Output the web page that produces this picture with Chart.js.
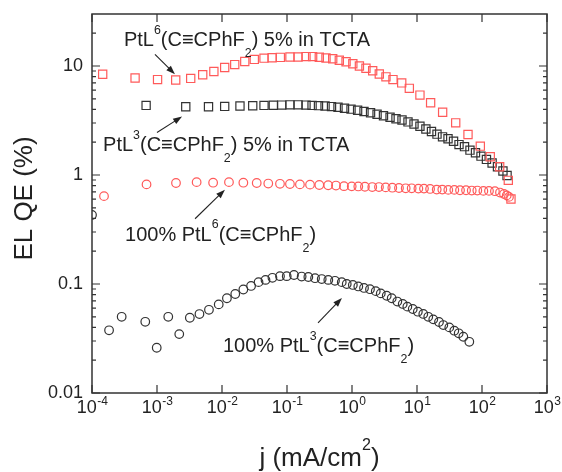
<!DOCTYPE html>
<html>
<head>
<meta charset="utf-8">
<script src="https://cdn.jsdelivr.net/npm/chart.js@4.4.1/dist/chart.umd.min.js"></script>
<style>
  html, body { margin: 0; padding: 0; background: #fff; }
  #wrap { width: 562px; height: 472px; }
</style>
</head>
<body>
<div id="wrap"><canvas id="qeChart" width="562" height="472"></canvas></div>
<script>
// EL QE (%) versus current density j (mA/cm2)

// PtL6(C≡CPhF2) 5% in TCTA (red squares)
const jL6Doped = [1.46e-4, 4.6e-4, 1.02e-3, 1.94e-3, 3.3e-3, 5.05e-3, 7.5e-3, 0.011, 0.0157, 0.0224,
  0.0314, 0.0443, 0.059, 0.079, 0.111, 0.148, 0.196, 0.248, 0.314, 0.398,
  0.505, 0.638, 0.81, 1.03, 1.30, 1.64, 2.08, 2.63, 3.33, 4.27,
  5.82, 7.62, 11.1, 16.2, 24.8, 39.4, 60.9, 94.2, 134, 187,
  254, 279];
const qeL6Doped = [8.4, 7.76, 7.5, 7.45, 7.7, 8.3, 8.9, 9.7, 10.3, 11.0,
  11.5, 11.8, 11.9, 12.0, 12.1, 12.1, 12.2, 12.2, 12.05, 11.85,
  11.65, 11.3, 10.95, 10.5, 10.0, 9.55, 9.05, 8.45, 7.95, 7.5,
  7.0, 6.24, 5.41, 4.60, 3.77, 3.01, 2.35, 1.84, 1.47, 1.19,
  0.893, 0.603];

// PtL3(C≡CPhF2) 5% in TCTA (black squares)
const jL3Doped = [6.8e-4, 2.77e-3, 6.2e-3, 0.011, 0.0189, 0.0297, 0.0443, 0.0616, 0.083, 0.111,
  0.148, 0.196, 0.243, 0.305, 0.385, 0.484, 0.609, 0.767, 0.966, 1.22,
  1.53, 1.93, 2.43, 3.05, 3.85, 4.75, 5.88, 7.27, 8.99, 11.1,
  13.7, 16.7, 20.3, 24.7, 30.0, 36.5, 44.3, 53.8, 65.3, 79.4,
  96.5, 117, 143, 173, 210, 243];
const qeL3Doped = [4.35, 4.23, 4.23, 4.26, 4.29, 4.32, 4.35, 4.37, 4.38, 4.4,
  4.4, 4.38, 4.35, 4.33, 4.3, 4.24, 4.18, 4.1, 4.02, 3.93,
  3.83, 3.72, 3.61, 3.50, 3.39, 3.28, 3.20, 3.07, 2.94, 2.80,
  2.64, 2.51, 2.37, 2.24, 2.15, 2.04, 1.90, 1.82, 1.69, 1.60,
  1.49, 1.39, 1.29, 1.19, 1.09, 0.99];

// 100% PtL6(C≡CPhF2) (red circles)
const jL6Neat = [1.53e-4, 6.9e-4, 1.96e-3, 4.07e-3, 7.3e-3, 0.0128, 0.0213, 0.0342, 0.0515, 0.078,
  0.111, 0.158, 0.226, 0.314, 0.43, 0.567, 0.753, 0.99, 1.25, 1.58,
  2.05, 2.60, 3.30, 4.17, 5.28, 6.70, 8.28, 10.5, 12.8, 15.9,
  20.1, 24.5, 30.3, 37.5, 45.9, 56.8, 69.5, 84.7, 105, 128,
  158, 189, 218, 240, 260];
const qeL6Neat = [0.64, 0.82, 0.845, 0.86, 0.85, 0.86, 0.85, 0.845, 0.835, 0.83,
  0.827, 0.82, 0.816, 0.81, 0.805, 0.80, 0.79, 0.787, 0.785, 0.78,
  0.775, 0.775, 0.77, 0.765, 0.76, 0.755, 0.755, 0.75, 0.75, 0.745,
  0.735, 0.735, 0.73, 0.73, 0.725, 0.725, 0.72, 0.72, 0.715, 0.715,
  0.71, 0.69, 0.67, 0.65, 0.63];

// 100% PtL3(C≡CPhF2) (black circles)
const jL3Neat = [1.0e-4, 1.83e-4, 2.86e-4, 6.6e-4, 9.9e-4, 1.49e-3, 2.2e-3, 3.2e-3, 4.5e-3, 6.3e-3,
  8.9e-3, 0.0119, 0.016, 0.0213, 0.028, 0.0365, 0.0467, 0.0597, 0.078, 0.099,
  0.128, 0.168, 0.213, 0.270, 0.342, 0.432, 0.547, 0.695, 0.83, 1.03,
  1.25, 1.53, 1.89, 2.32, 2.77, 3.42, 4.08, 4.98, 6.03, 7.1,
  8.6, 10.3, 12.5, 14.9, 17.8, 21.8, 25.4, 31.4, 37.5, 43.8,
  51.6, 63.8];
const qeL3Neat = [0.43, 0.0376, 0.050, 0.045, 0.026, 0.050, 0.0347, 0.049, 0.053, 0.058,
  0.065, 0.074, 0.081, 0.089, 0.096, 0.104, 0.109, 0.114, 0.118, 0.118,
  0.121, 0.117, 0.116, 0.113, 0.111, 0.109, 0.107, 0.104, 0.100, 0.098,
  0.095, 0.092, 0.0896, 0.086, 0.082, 0.078, 0.074, 0.069, 0.0656, 0.062,
  0.059, 0.0557, 0.0531, 0.050, 0.0474, 0.0448, 0.042, 0.040, 0.0373, 0.0353,
  0.0328, 0.0295];

// axes
const xRange = [1e-4, 1e3];
const yRange = [0.01, 30];
const xTickPowers = [-4, -3, -2, -1, 0, 1, 2, 3];
const yTickValues = [0.01, 0.1, 1, 10];
const yTickLabels = ['0.01', '0.1', '1', '10'];

// annotations: text parts, anchor (data coords) and arrow from -> to
const notes = [
  { parts: [['PtL'], ['6', 'sup'], ['(C\u2261CPhF'], ['2', 'sub'], [') 5% in TCTA']],
    at: [3.1e-4, 15.2], from: [9.3e-4, 12.8], to: [1.89e-3, 8.4] },
  { parts: [['PtL'], ['3', 'sup'], ['(C\u2261CPhF'], ['2', 'sub'], [') 5% in TCTA']],
    at: [1.48e-4, 1.65], from: [1.0e-3, 2.45], to: [2.43e-3, 3.44] },
  { parts: [['100% PtL'], ['6', 'sup'], ['(C\u2261CPhF'], ['2', 'sub'], [')']],
    at: [3.22e-4, 0.249], from: [3.85e-3, 0.397], to: [0.0111, 0.734] },
  { parts: [['100% PtL'], ['3', 'sup'], ['(C\u2261CPhF'], ['2', 'sub'], [')']],
    at: [0.01035, 0.0237], from: [0.30, 0.0439], to: [0.70, 0.0745] }
];

const FONT = '"Liberation Sans", Arial, sans-serif';
const RED = '#ff5a5a';
const DARK = '#333333';

function toPoints(xs, ys) {
  return xs.map((x, i) => ({ x: x, y: ys[i] }));
}

// draws text made of normal / superscript / subscript pieces, returns width
function richText(ctx, parts, x, y, size, measureOnly) {
  let cx = x;
  parts.forEach(p => {
    const kind = p[1] || '';
    const fs = kind ? size * 0.62 : size;
    let dy = 0;
    if (kind === 'sup') dy = -size * 0.62;
    if (kind === 'sub') dy = size * 0.55;
    ctx.font = fs + 'px ' + FONT;
    if (!measureOnly) ctx.fillText(p[0], cx, y + dy);
    cx += ctx.measureText(p[0]).width;
  });
  return cx - x;
}

function arrow(ctx, x1, y1, x2, y2) {
  const ang = Math.atan2(y2 - y1, x2 - x1);
  const hl = 9, hw = 3.2;
  ctx.beginPath();
  ctx.moveTo(x1, y1);
  ctx.lineTo(x2 - Math.cos(ang) * hl * 0.8, y2 - Math.sin(ang) * hl * 0.8);
  ctx.stroke();
  ctx.beginPath();
  ctx.moveTo(x2, y2);
  ctx.lineTo(x2 - Math.cos(ang) * hl - Math.sin(ang) * hw, y2 - Math.sin(ang) * hl + Math.cos(ang) * hw);
  ctx.lineTo(x2 - Math.cos(ang) * hl + Math.sin(ang) * hw, y2 - Math.sin(ang) * hl - Math.cos(ang) * hw);
  ctx.closePath();
  ctx.fill();
}

const frameAndLabels = {
  id: 'frameAndLabels',
  afterDatasetsDraw(chart) {
    const ctx = chart.ctx;
    const xs = chart.scales.x;
    const ys = chart.scales.y;
    const a = chart.chartArea;
    ctx.save();
    ctx.strokeStyle = DARK;
    ctx.fillStyle = '#222';

    // frame
    ctx.lineWidth = 1.5;
    ctx.strokeRect(a.left, a.top, a.right - a.left, a.bottom - a.top);

    // x ticks (decades, inside, top and bottom)
    ctx.lineWidth = 1.2;
    ctx.beginPath();
    xTickPowers.forEach(p => {
      const px = xs.getPixelForValue(Math.pow(10, p));
      ctx.moveTo(px, a.bottom); ctx.lineTo(px, a.bottom - 8);
      ctx.moveTo(px, a.top); ctx.lineTo(px, a.top + 8);
    });
    // y ticks (major + minor, inside, left and right)
    for (let e = -2; e <= 1; e++) {
      for (let m = 1; m <= 9; m++) {
        const v = m * Math.pow(10, e);
        if (v >= yRange[1] * 0.999) break;
        const py = ys.getPixelForValue(v);
        const len = m === 1 ? 8 : 4;
        ctx.moveTo(a.left, py); ctx.lineTo(a.left + len, py);
        ctx.moveTo(a.right, py); ctx.lineTo(a.right - len, py);
      }
    }
    ctx.stroke();

    // x tick labels 10^n
    ctx.textAlign = 'left';
    ctx.textBaseline = 'alphabetic';
    xTickPowers.forEach(p => {
      const px = xs.getPixelForValue(Math.pow(10, p));
      const exp = p < 0 ? '-' + Math.abs(p) : String(p);
      ctx.font = '18px ' + FONT;
      const wBase = ctx.measureText('10').width;
      ctx.font = '12px ' + FONT;
      const wExp = ctx.measureText(exp).width;
      const x0 = px - (wBase + wExp) / 2;
      ctx.font = '18px ' + FONT;
      ctx.fillText('10', x0, 413);
      ctx.font = '12px ' + FONT;
      ctx.fillText(exp, x0 + wBase + 0.5, 405);
    });

    // y tick labels
    ctx.font = '18px ' + FONT;
    ctx.textAlign = 'right';
    ctx.textBaseline = 'middle';
    yTickValues.forEach((v, i) => {
      ctx.fillText(yTickLabels[i], a.left - 9, ys.getPixelForValue(v));
    });

    // axis titles
    ctx.textAlign = 'left';
    ctx.textBaseline = 'alphabetic';
    const xTitle = [['j (mA/cm'], ['2', 'sup'], [')']];
    const wt = richText(ctx, xTitle, 0, 0, 26, true);
    richText(ctx, xTitle, (a.left + a.right) / 2 - wt / 2, 466, 26);

    ctx.save();
    ctx.translate(32, (a.top + a.bottom) / 2 - 5);
    ctx.rotate(-Math.PI / 2);
    ctx.font = '26px ' + FONT;
    ctx.textAlign = 'center';
    ctx.fillText('EL QE (%)', 0, 0);
    ctx.restore();

    // annotations with arrows
    ctx.lineWidth = 1.1;
    ctx.strokeStyle = '#222';
    notes.forEach(n => {
      richText(ctx, n.parts, xs.getPixelForValue(n.at[0]), ys.getPixelForValue(n.at[1]), 20);
      arrow(ctx,
        xs.getPixelForValue(n.from[0]), ys.getPixelForValue(n.from[1]),
        xs.getPixelForValue(n.to[0]), ys.getPixelForValue(n.to[1]));
    });
    ctx.restore();
  }
};

function series(label, xs, ys, color, style, radius) {
  return {
    label: label,
    data: toPoints(xs, ys),
    pointStyle: style,
    pointRadius: radius,
    pointBorderWidth: 1.2,
    borderColor: color,
    backgroundColor: 'rgba(0,0,0,0)',
    pointBackgroundColor: 'rgba(0,0,0,0)',
    clip: 0
  };
}

new Chart(document.getElementById('qeChart'), {
  type: 'scatter',
  data: {
    datasets: [
      series('PtL6(C≡CPhF2) 5% in TCTA', jL6Doped, qeL6Doped, RED, 'rect', 5.8),
      series('PtL3(C≡CPhF2) 5% in TCTA', jL3Doped, qeL3Doped, DARK, 'rect', 5.8),
      series('100% PtL6(C≡CPhF2)', jL6Neat, qeL6Neat, RED, 'circle', 4.3),
      series('100% PtL3(C≡CPhF2)', jL3Neat, qeL3Neat, DARK, 'circle', 4.3)
    ]
  },
  options: {
    responsive: false,
    animation: false,
    events: [],
    layout: { padding: { left: 92, right: 15, top: 14, bottom: 79 } },
    plugins: { legend: { display: false }, tooltip: { enabled: false } },
    scales: {
      x: { type: 'logarithmic', min: xRange[0], max: xRange[1], display: false },
      y: { type: 'logarithmic', min: yRange[0], max: yRange[1], display: false }
    }
  },
  plugins: [frameAndLabels]
});
</script>
</body>
</html>
